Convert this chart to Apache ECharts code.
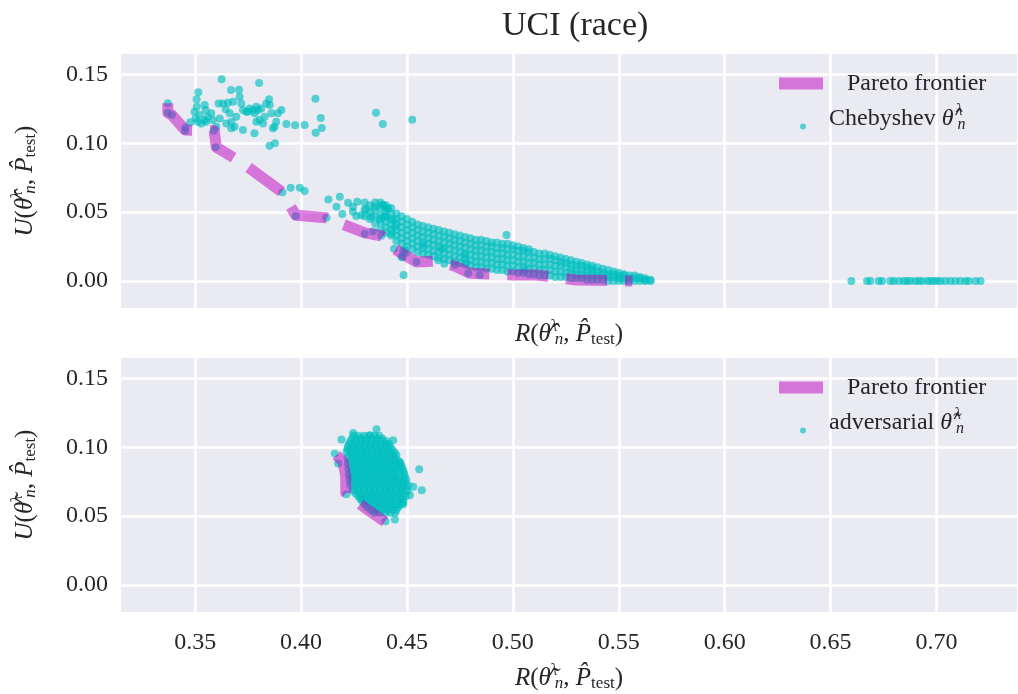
<!DOCTYPE html>
<html>
<head>
<meta charset="utf-8">
<script src="https://cdn.jsdelivr.net/npm/echarts@6/dist/echarts.min.js"></script>
<style>
  html, body { margin: 0; padding: 0; background: #fff; }
  #chart { width: 1018px; height: 694px; }
</style>
</head>
<body>
<div id="chart"></div>
<script>
// values
const xTicks = [0.35, 0.40, 0.45, 0.50, 0.55, 0.60, 0.65, 0.70]
const yTicks = [0.00, 0.05, 0.10, 0.15]

// top panel: Chebyshev points
const chebUpper = [
  [0.3371, 0.1291], [0.3371, 0.1223], [0.3390, 0.1206], [0.3454, 0.1116], [0.3452, 0.1092], [0.3477, 0.1153],
  [0.3515, 0.1371], [0.3507, 0.1320], [0.3625, 0.1465], [0.3802, 0.1438], [0.3669, 0.1387], [0.3707, 0.1390],
  [0.3710, 0.1339], [0.3849, 0.1320], [0.4068, 0.1324], [0.4354, 0.1223], [0.4386, 0.1140], [0.4525, 0.1172],
  [0.4093, 0.1184], [0.4098, 0.1111], [0.4069, 0.1077], [0.4017, 0.1133], [0.3972, 0.1131], [0.3931, 0.1140],
  [0.3851, 0.0983], [0.3877, 0.1000], [0.3780, 0.1073], [0.3726, 0.1097], [0.3587, 0.1092], [0.3597, 0.0971],
  [0.3497, 0.1230], [0.3508, 0.1266], [0.3521, 0.1206], [0.3502, 0.1181], [0.3529, 0.1145], [0.3545, 0.1278],
  [0.3549, 0.1242], [0.3560, 0.1193], [0.3576, 0.1218], [0.3584, 0.1169], [0.3611, 0.1290], [0.3616, 0.1181],
  [0.3631, 0.1290], [0.3644, 0.1247], [0.3655, 0.1295], [0.3663, 0.1218], [0.3671, 0.1157], [0.3679, 0.1302],
  [0.3686, 0.1121], [0.3694, 0.1193], [0.3718, 0.1290], [0.3726, 0.1242], [0.3749, 0.1230], [0.3757, 0.1254],
  [0.3773, 0.1242], [0.3781, 0.1218], [0.3789, 0.1266], [0.3797, 0.1242], [0.3804, 0.1169], [0.3812, 0.1254],
  [0.3820, 0.1145], [0.3828, 0.1193], [0.3836, 0.1290], [0.3852, 0.1278], [0.3860, 0.1218], [0.3867, 0.1109],
  [0.3875, 0.1121], [0.3883, 0.1157], [0.3891, 0.1218], [0.3907, 0.1242], [0.3600, 0.1121], [0.3671, 0.1109],
  [0.3545, 0.1169], [0.3513, 0.1157], [0.3647, 0.1145], [0.3789, 0.1157], [0.3741, 0.1230], [0.3552, 0.1157]
]
const chebMiddle = [
  [0.3951, 0.0678], [0.3994, 0.0678], [0.4017, 0.0654], [0.3912, 0.0644], [0.3975, 0.0472], [0.4120, 0.0460],
  [0.4129, 0.0593], [0.4167, 0.0540], [0.4183, 0.0612], [0.4195, 0.0487], [0.4222, 0.0569], [0.4245, 0.0540],
  [0.4265, 0.0576], [0.4261, 0.0472], [0.4301, 0.0344], [0.4340, 0.0361], [0.4379, 0.0329], [0.4439, 0.0235],
  [0.4482, 0.0220], [0.4479, 0.0172], [0.4494, 0.0206], [0.4545, 0.0138], [0.4647, 0.0150], [0.4676, 0.0126],
  [0.4726, 0.0116], [0.4773, 0.0189], [0.4781, 0.0133], [0.4789, 0.0056],
  [0.4308, 0.0520], [0.4348, 0.0540], [0.4372, 0.0448], [0.4387, 0.0552], [0.4411, 0.0528], [0.4403, 0.0467],
  [0.4332, 0.0467], [0.4285, 0.0479], [0.4245, 0.0503], [0.4385, 0.0552], [0.4404, 0.0528], [0.4388, 0.0467],
  [0.4435, 0.0443], [0.4427, 0.0346], [0.4443, 0.0395], [0.4474, 0.0177], [0.4490, 0.0225], [0.4577, 0.0262],
  [0.4663, 0.0237], [0.4970, 0.0334], [0.4484, 0.0044], [0.4844, 0.0044], [0.5057, 0.0080]
]
// dense band, column by column: x, then the y values in that column
const bandColX = [
  0.4300, 0.4325, 0.4350, 0.4375,
  0.4400, 0.4425, 0.4450, 0.4475, 0.4500, 0.4525, 0.4550, 0.4575, 0.4600, 0.4625,
  0.4650, 0.4675, 0.4700, 0.4725, 0.4750, 0.4775, 0.4800, 0.4825, 0.4850, 0.4875,
  0.4900, 0.4925, 0.4950, 0.4975, 0.5000, 0.5025, 0.5050, 0.5075, 0.5100, 0.5125,
  0.5150, 0.5175, 0.5200, 0.5225, 0.5250, 0.5275, 0.5300, 0.5325, 0.5350, 0.5375,
  0.5400, 0.5425, 0.5450, 0.5475, 0.5500, 0.5525, 0.5550, 0.5575, 0.5600, 0.5625, 0.5650
]
const bandColY = [
  [0.047, 0.052, 0.057], [0.045, 0.050, 0.055], [0.042, 0.047, 0.052, 0.057], [0.038, 0.043, 0.048, 0.053, 0.057],
  [0.035, 0.039, 0.043, 0.047, 0.051, 0.055], [0.033, 0.037, 0.041, 0.045, 0.049, 0.053],
  [0.029, 0.033, 0.037, 0.041, 0.045, 0.049], [0.027, 0.031, 0.035, 0.039, 0.043, 0.047],
  [0.025, 0.029, 0.033, 0.037, 0.041, 0.045], [0.023, 0.027, 0.031, 0.035, 0.039, 0.043],
  [0.021, 0.025, 0.029, 0.033, 0.037, 0.041], [0.020, 0.024, 0.028, 0.032, 0.036, 0.040],
  [0.019, 0.023, 0.027, 0.031, 0.035, 0.039], [0.018, 0.022, 0.026, 0.030, 0.034, 0.038],
  [0.017, 0.021, 0.025, 0.029, 0.033, 0.037], [0.016, 0.020, 0.024, 0.028, 0.032, 0.036],
  [0.015, 0.019, 0.023, 0.027, 0.031, 0.035], [0.014, 0.018, 0.022, 0.026, 0.030, 0.034],
  [0.013, 0.017, 0.021, 0.025, 0.029, 0.033], [0.012, 0.016, 0.020, 0.024, 0.028, 0.032],
  [0.011, 0.015, 0.019, 0.023, 0.027, 0.031], [0.010, 0.014, 0.018, 0.022, 0.026, 0.030],
  [0.010, 0.014, 0.018, 0.022, 0.026, 0.030], [0.009, 0.013, 0.017, 0.021, 0.025, 0.029],
  [0.009, 0.013, 0.017, 0.021, 0.025, 0.028], [0.008, 0.012, 0.016, 0.020, 0.024, 0.028],
  [0.008, 0.012, 0.016, 0.020, 0.024, 0.027], [0.007, 0.011, 0.015, 0.019, 0.023, 0.027],
  [0.007, 0.011, 0.015, 0.019, 0.023, 0.026], [0.006, 0.010, 0.014, 0.018, 0.022, 0.025],
  [0.006, 0.010, 0.014, 0.018, 0.022, 0.024], [0.005, 0.009, 0.013, 0.017, 0.021, 0.023],
  [0.005, 0.009, 0.013, 0.017, 0.021], [0.004, 0.008, 0.012, 0.016, 0.020],
  [0.004, 0.008, 0.012, 0.016, 0.020], [0.004, 0.008, 0.012, 0.016, 0.019],
  [0.003, 0.007, 0.011, 0.015, 0.018], [0.003, 0.007, 0.011, 0.014, 0.017],
  [0.003, 0.006, 0.010, 0.013, 0.016], [0.002, 0.006, 0.009, 0.012, 0.015],
  [0.002, 0.005, 0.008, 0.011, 0.014], [0.002, 0.005, 0.008, 0.011, 0.013],
  [0.001, 0.004, 0.007, 0.010, 0.012], [0.001, 0.004, 0.007, 0.009, 0.011],
  [0.001, 0.004, 0.007, 0.010], [0.001, 0.004, 0.006, 0.009],
  [0.000, 0.003, 0.005, 0.008], [0.000, 0.003, 0.005, 0.007],
  [0.000, 0.002, 0.004, 0.006], [0.000, 0.002, 0.004, 0.005],
  [0.000, 0.002, 0.004], [0.000, 0.002, 0.004], [0.000, 0.002, 0.003],
  [0.000, 0.001, 0.002], [0.000, 0.001]
]
const chebRight = [
  [0.6598, 0.0000], [0.6672, 0.0000], [0.6688, 0.0000], [0.6727, 0.0000], [0.6743, 0.0000], [0.6782, 0.0000],
  [0.6798, 0.0000], [0.6822, 0.0000], [0.6845, 0.0000], [0.6861, 0.0000], [0.6877, 0.0000], [0.6900, 0.0000],
  [0.6916, 0.0000], [0.6932, 0.0000], [0.6956, 0.0000], [0.6971, 0.0000], [0.6987, 0.0000], [0.7003, 0.0000],
  [0.7019, 0.0000], [0.7042, 0.0000], [0.7066, 0.0000], [0.7089, 0.0000], [0.7113, 0.0000], [0.7137, 0.0000],
  [0.7152, 0.0000], [0.7184, 0.0000], [0.7208, 0.0000]
]
const paretoTop = [
  [0.3371, 0.1291], [0.3371, 0.1223], [0.3390, 0.1206], [0.3453, 0.1097], [0.3590, 0.1092], [0.3600, 0.0971],
  [0.3726, 0.0855], [0.3912, 0.0644], [0.3975, 0.0477], [0.4120, 0.0460], [0.4301, 0.0350], [0.4379, 0.0329],
  [0.4439, 0.0235], [0.4545, 0.0138], [0.4647, 0.0145], [0.4676, 0.0126], [0.4726, 0.0109], [0.4797, 0.0056],
  [0.5002, 0.0044], [0.5112, 0.0044], [0.5301, 0.0007], [0.5564, 0.0000]
]

// bottom panel: adversarial points, row by row (y, then the x values in that row)
const advRowY = [
  0.1085, 0.1065, 0.1045, 0.1025, 0.1005, 0.0985, 0.0965, 0.0945, 0.0925, 0.0905,
  0.0885, 0.0865, 0.0845, 0.0825, 0.0805, 0.0785, 0.0765, 0.0745, 0.0725, 0.0705,
  0.0685, 0.0665, 0.0645, 0.0625, 0.0605, 0.0585, 0.0565, 0.0545, 0.0525
]
const advRowX = [
  [0.4248, 0.4272, 0.4298, 0.4321, 0.4347, 0.4369],
  [0.4240, 0.4260, 0.4285, 0.4310, 0.4334, 0.4358, 0.4383],
  [0.4232, 0.4257, 0.4283, 0.4306, 0.4331, 0.4356, 0.4382, 0.4404],
  [0.4226, 0.4250, 0.4275, 0.4300, 0.4325, 0.4350, 0.4375, 0.4400, 0.4415],
  [0.4221, 0.4246, 0.4273, 0.4296, 0.4323, 0.4349, 0.4371, 0.4398, 0.4421],
  [0.4218, 0.4234, 0.4259, 0.4284, 0.4309, 0.4334, 0.4359, 0.4384, 0.4409, 0.4430],
  [0.4216, 0.4242, 0.4264, 0.4291, 0.4317, 0.4339, 0.4366, 0.4392, 0.4414, 0.4441],
  [0.4230, 0.4255, 0.4280, 0.4305, 0.4330, 0.4355, 0.4380, 0.4405, 0.4430, 0.4450],
  [0.4219, 0.4244, 0.4269, 0.4292, 0.4318, 0.4344, 0.4367, 0.4394, 0.4419, 0.4443],
  [0.4232, 0.4257, 0.4282, 0.4307, 0.4332, 0.4357, 0.4382, 0.4407, 0.4432, 0.4456],
  [0.4221, 0.4246, 0.4271, 0.4297, 0.4321, 0.4346, 0.4372, 0.4396, 0.4421, 0.4447, 0.4468],
  [0.4235, 0.4260, 0.4285, 0.4310, 0.4335, 0.4360, 0.4385, 0.4410, 0.4435, 0.4460, 0.4474],
  [0.4223, 0.4248, 0.4272, 0.4298, 0.4323, 0.4347, 0.4373, 0.4398, 0.4423, 0.4448, 0.4479],
  [0.4237, 0.4262, 0.4287, 0.4312, 0.4337, 0.4362, 0.4387, 0.4412, 0.4437, 0.4462, 0.4484],
  [0.4226, 0.4251, 0.4276, 0.4301, 0.4326, 0.4351, 0.4376, 0.4401, 0.4426, 0.4451, 0.4488],
  [0.4240, 0.4265, 0.4290, 0.4315, 0.4340, 0.4365, 0.4390, 0.4415, 0.4440, 0.4465, 0.4490],
  [0.4229, 0.4254, 0.4279, 0.4304, 0.4329, 0.4354, 0.4379, 0.4404, 0.4429, 0.4454, 0.4478, 0.4497],
  [0.4242, 0.4267, 0.4292, 0.4317, 0.4342, 0.4367, 0.4392, 0.4417, 0.4442, 0.4467, 0.4492],
  [0.4232, 0.4257, 0.4282, 0.4307, 0.4332, 0.4357, 0.4382, 0.4407, 0.4432, 0.4457, 0.4482, 0.4506],
  [0.4250, 0.4275, 0.4300, 0.4325, 0.4350, 0.4375, 0.4400, 0.4425, 0.4450, 0.4475, 0.4497],
  [0.4246, 0.4271, 0.4296, 0.4321, 0.4346, 0.4371, 0.4396, 0.4421, 0.4446, 0.4471, 0.4503],
  [0.4258, 0.4283, 0.4308, 0.4333, 0.4358, 0.4383, 0.4408, 0.4433, 0.4458, 0.4483],
  [0.4271, 0.4296, 0.4321, 0.4346, 0.4371, 0.4396, 0.4421, 0.4446, 0.4471, 0.4494],
  [0.4280, 0.4305, 0.4330, 0.4355, 0.4380, 0.4405, 0.4430, 0.4455, 0.4480],
  [0.4291, 0.4316, 0.4341, 0.4366, 0.4391, 0.4416, 0.4441, 0.4466, 0.4484],
  [0.4300, 0.4325, 0.4350, 0.4375, 0.4400, 0.4425, 0.4450, 0.4470],
  [0.4312, 0.4337, 0.4362, 0.4387, 0.4412, 0.4437, 0.4458],
  [0.4330, 0.4355, 0.4380, 0.4405, 0.4430, 0.4450],
  [0.4346, 0.4371, 0.4396, 0.4421, 0.4444]
]
const advOutliers = [
  [0.4191, 0.1057], [0.4246, 0.1105], [0.4356, 0.1132], [0.4558, 0.0841], [0.4570, 0.0689], [0.4530, 0.0713],
  [0.4514, 0.0652], [0.4482, 0.0587], [0.4443, 0.0476], [0.4399, 0.0464], [0.4214, 0.0660], [0.4285, 0.0628],
  [0.4159, 0.0955], [0.4175, 0.0882], [0.4325, 0.1088], [0.4435, 0.1052], [0.4466, 0.0894]
]
const paretoBottom = [
  [0.4167, 0.0943], [0.4199, 0.0894], [0.4211, 0.0786], [0.4211, 0.0669], [0.4246, 0.0628], [0.4317, 0.0543],
  [0.4396, 0.0459]
]

const FONT = 'Liberation Serif'
const INK = '#262626'
const CYAN = 'rgba(0,191,191,0.8)'
const MAGENTA = 'rgba(191,0,191,0.5)'

const bandPts = []
bandColX.forEach((x, i) => bandColY[i].forEach(y => bandPts.push([x, y])))
const advPts = []
advRowY.forEach((y, i) => advRowX[i].forEach(x => advPts.push([x, y])))

const mathRich = (size) => ({
  t: { fontFamily: FONT, fontSize: size, color: INK },
  i: { fontFamily: FONT, fontSize: size, fontStyle: 'italic', color: INK },
  sup: { fontFamily: FONT, fontSize: size * 0.68, fontStyle: 'italic', color: INK, padding: [0, 0, 15, 2], width: 1 },
  sub: { fontFamily: FONT, fontSize: size * 0.68, fontStyle: 'italic', color: INK, padding: [12, 0, 0, 1] },
  subr: { fontFamily: FONT, fontSize: size * 0.68, color: INK, padding: [12, 0, 0, 0] }
})
// legend entries for the dots: text sits 8px above the marker
const legendRich = {
  b: { fontFamily: FONT, fontSize: 24, color: INK, padding: [0, 0, 16, 0] },
  bi: { fontFamily: FONT, fontSize: 24, fontStyle: 'italic', color: INK, padding: [0, 0, 16, 0] },
  sup: { fontFamily: FONT, fontSize: 16, fontStyle: 'italic', color: INK, padding: [0, 0, 31, 2], width: 1 },
  sub: { fontFamily: FONT, fontSize: 16, fontStyle: 'italic', color: INK, padding: [0, 0, 4, 1] }
}

const nameR = (acc) => '{i|R}{t|(}{i|θ' + acc + '}{sup|λ}{sub|n}{t|, }{i|P̂}{subr|test}{t|)}'
const nameU = (acc) => '{i|U}{t|(}{i|θ' + acc + '}{sup|λ}{sub|n}{t|, }{i|P̂}{subr|test}{t|)}'

const splitLine = { show: true, lineStyle: { color: '#fff', width: 2.5 } }

const xAxisFor = (idx, showLabels, name, gap) => ({
  type: 'value', gridIndex: idx, min: 0.315, max: 0.738,
  axisLine: { show: false },
  axisTick: { show: false, customValues: xTicks },
  axisLabel: {
    show: showLabels, customValues: xTicks, margin: 19,
    fontFamily: FONT, fontSize: 24, color: INK,
    formatter: v => v.toFixed(2)
  },
  splitLine,
  name, nameLocation: 'middle', nameGap: gap,
  nameTextStyle: { rich: mathRich(25) }
})

const yAxisFor = (idx, name) => ({
  type: 'value', gridIndex: idx, min: -0.0196, max: 0.1649,
  axisLine: { show: false },
  axisTick: { show: false, customValues: yTicks },
  axisLabel: {
    customValues: yTicks, margin: 13,
    fontFamily: FONT, fontSize: 24, color: INK,
    formatter: v => v.toFixed(2)
  },
  splitLine,
  name, nameLocation: 'middle', nameGap: 80, nameRotate: 90,
  nameTextStyle: { rich: mathRich(25) }
})

const lineLegend = (top) => ({
  data: ['Pareto frontier'], left: 779, top, padding: 0, icon: 'rect',
  itemWidth: 44, itemHeight: 12, itemStyle: { borderWidth: 0 },
  selectedMode: false,
  textStyle: { fontFamily: FONT, fontSize: 24, color: INK, padding: [0, 0, 0, 19] }
})
const dotLegend = (top, name) => ({
  data: [name], left: 800, top, padding: 0, icon: 'circle',
  itemWidth: 42, itemHeight: 6, selectedMode: false,
  textStyle: { fontFamily: FONT, fontSize: 24, color: INK, rich: legendRich },
  formatter: n => n === 'Chebyshev'
    ? '{b|Chebyshev }{bi|θ̂}{sup|λ}{sub|n}'
    : '{b|adversarial }{bi|θ̃}{sup|λ}{sub|n}'
})

const chart = echarts.init(document.getElementById('chart'))
chart.setOption({
  animation: false,
  backgroundColor: '#fff',
  title: {
    text: 'UCI (race)', left: 497, top: 4,
    textStyle: { fontFamily: FONT, fontSize: 34, fontWeight: 'normal', color: INK }
  },
  grid: [
    { left: 121, top: 54, width: 896, height: 254, show: true, backgroundColor: '#EAEAF2', borderWidth: 0 },
    { left: 121, top: 358, width: 896, height: 254, show: true, backgroundColor: '#EAEAF2', borderWidth: 0 }
  ],
  xAxis: [
    xAxisFor(0, false, nameR('̂'), 10),
    xAxisFor(1, true, nameR('̃'), 50)
  ],
  yAxis: [
    yAxisFor(0, nameU('̂')),
    yAxisFor(1, nameU('̃'))
  ],
  legend: [
    lineLegend(71.5),
    dotLegend(103, 'Chebyshev'),
    lineLegend(375.5),
    dotLegend(407, 'adversarial')
  ],
  series: [
    {
      name: 'Chebyshev', type: 'scatter', xAxisIndex: 0, yAxisIndex: 0,
      symbolSize: 8, itemStyle: { color: CYAN },
      data: chebUpper.concat(chebMiddle, bandPts, chebRight)
    },
    {
      name: 'Pareto frontier', type: 'line', xAxisIndex: 0, yAxisIndex: 0,
      data: paretoTop, showSymbol: false, symbol: 'none', z: 3,
      itemStyle: { color: MAGENTA },
      lineStyle: { color: MAGENTA, width: 11, type: [41, 18], cap: 'butt', join: 'round' }
    },
    {
      name: 'adversarial', type: 'scatter', xAxisIndex: 1, yAxisIndex: 1,
      symbolSize: 8, itemStyle: { color: CYAN },
      data: advPts.concat(advOutliers)
    },
    {
      name: 'Pareto frontier', type: 'line', xAxisIndex: 1, yAxisIndex: 1,
      data: paretoBottom, showSymbol: false, symbol: 'none', z: 3,
      itemStyle: { color: MAGENTA },
      lineStyle: { color: MAGENTA, width: 11, type: [41, 18], cap: 'butt', join: 'round' }
    }
  ]
})
</script>
</body>
</html>
